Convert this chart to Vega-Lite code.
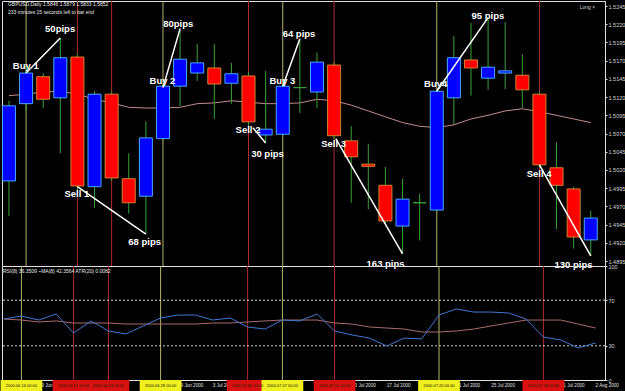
{
  "$schema": "https://vega.github.io/schema/vega-lite/v6.json",
  "background": "black",
  "padding": 0,
  "spacing": 0,
  "bounds": "flush",
  "config": {
    "view": {"stroke": "#e0e0e0", "strokeWidth": 1},
    "text": {"font": "Liberation Sans"},
    "axis": {"labelFont": "Liberation Sans", "labelOverlap": false, "labelBound": false, "labelFlush": false},
    "axisY": {"labelOverlap": false},
    "axisQuantitative": {"labelOverlap": false}
  },
  "datasets": {
    "candles": [
      {"i":0,"o":1.5005,"h":1.5115,"l":1.4957,"c":1.5108},
      {"i":1,"o":1.5111,"h":1.5163,"l":1.5101,"c":1.5153},
      {"i":2,"o":1.5148,"h":1.5153,"l":1.5105,"c":1.5117},
      {"i":3,"o":1.5119,"h":1.5201,"l":1.5043,"c":1.5174},
      {"i":4,"o":1.5175,"h":1.5179,"l":1.4991,"c":1.4998},
      {"i":5,"o":1.4997,"h":1.5128,"l":1.4968,"c":1.5124},
      {"i":6,"o":1.5124,"h":1.5128,"l":1.5005,"c":1.5009},
      {"i":7,"o":1.5008,"h":1.5043,"l":1.4960,"c":1.4975},
      {"i":8,"o":1.4984,"h":1.5087,"l":1.4932,"c":1.5064},
      {"i":9,"o":1.5063,"h":1.5138,"l":1.5060,"c":1.5135},
      {"i":10,"o":1.5135,"h":1.5214,"l":1.5108,"c":1.5172},
      {"i":11,"o":1.5153,"h":1.5193,"l":1.5142,"c":1.5167},
      {"i":12,"o":1.5160,"h":1.5193,"l":1.5090,"c":1.5138},
      {"i":13,"o":1.5139,"h":1.5167,"l":1.5111,"c":1.5152},
      {"i":14,"o":1.5149,"h":1.5155,"l":1.5080,"c":1.5086},
      {"i":15,"o":1.5068,"h":1.5156,"l":1.5057,"c":1.5076},
      {"i":16,"o":1.5069,"h":1.5138,"l":1.5067,"c":1.5135},
      {"i":17,"o":1.5133,"h":1.5200,"l":1.5098,"c":1.5133},
      {"i":18,"o":1.5127,"h":1.5181,"l":1.5105,"c":1.5168},
      {"i":19,"o":1.5164,"h":1.5168,"l":1.5063,"c":1.5067},
      {"i":20,"o":1.5060,"h":1.5080,"l":1.4975,"c":1.5038},
      {"i":21,"o":1.5028,"h":1.5056,"l":1.4966,"c":1.5025},
      {"i":22,"o":1.4999,"h":1.5024,"l":1.4946,"c":1.4950},
      {"i":23,"o":1.4943,"h":1.5008,"l":1.4905,"c":1.4980},
      {"i":24,"o":1.4975,"h":1.4987,"l":1.4923,"c":1.4975},
      {"i":25,"o":1.4965,"h":1.5131,"l":1.4961,"c":1.5128},
      {"i":26,"o":1.5119,"h":1.5204,"l":1.5083,"c":1.5174},
      {"i":27,"o":1.5171,"h":1.5222,"l":1.5122,"c":1.5160},
      {"i":28,"o":1.5146,"h":1.5229,"l":1.5130,"c":1.5161},
      {"i":29,"o":1.5153,"h":1.5223,"l":1.5131,"c":1.5156},
      {"i":30,"o":1.5150,"h":1.5179,"l":1.5105,"c":1.5130},
      {"i":31,"o":1.5124,"h":1.5128,"l":1.5023,"c":1.5027},
      {"i":32,"o":1.5023,"h":1.5058,"l":1.4939,"c":1.4999},
      {"i":33,"o":1.4994,"h":1.4997,"l":1.4912,"c":1.4928},
      {"i":34,"o":1.4924,"h":1.4964,"l":1.4902,"c":1.4954}
    ],
    "ma": [
      {"i":0,"v":1.5122},{"i":1,"v":1.5124},{"i":2,"v":1.5127},{"i":3,"v":1.5128},{"i":4,"v":1.5124},
      {"i":5,"v":1.5117},{"i":6,"v":1.5112},{"i":7,"v":1.5106},{"i":8,"v":1.5105},{"i":9,"v":1.5105},
      {"i":10,"v":1.5106},{"i":11,"v":1.5111},{"i":12,"v":1.5112},{"i":13,"v":1.5115},{"i":14,"v":1.5113},
      {"i":15,"v":1.5111},{"i":16,"v":1.5111},{"i":17,"v":1.5112},{"i":18,"v":1.5117},{"i":19,"v":1.5115},
      {"i":20,"v":1.5109},{"i":21,"v":1.5101},{"i":22,"v":1.5093},{"i":23,"v":1.5085},{"i":24,"v":1.5080},
      {"i":25,"v":1.5078},{"i":26,"v":1.5082},{"i":27,"v":1.5090},{"i":28,"v":1.5095},{"i":29,"v":1.5101},
      {"i":30,"v":1.5104},{"i":31,"v":1.5100},{"i":32,"v":1.5095},{"i":33,"v":1.5090},{"i":34,"v":1.5085}
    ],
    "vlines": [
      {"i":1,"t":"buy","d":"2000.06.16 00:00"},
      {"i":4,"t":"sell","d":"2000.06.21 00:00"},
      {"i":6,"t":"sell","d":"2000.06.23 00:00"},
      {"i":9,"t":"buy","d":"2000.06.28 00:00"},
      {"i":14,"t":"sell","d":"2000.07.05 00:00"},
      {"i":16,"t":"buy","d":"2000.07.07 00:00"},
      {"i":19,"t":"sell","d":"2000.07.12 00:00"},
      {"i":25,"t":"buy","d":"2000.07.20 00:00"},
      {"i":31,"t":"sell","d":"2000.07.28 00:00"}
    ],
    "trends": [
      {"i1":1,"p1":1.5153,"i2":3,"p2":1.5201},
      {"i1":4,"p1":1.4997,"i2":8,"p2":1.4932},
      {"i1":9,"p1":1.5133,"i2":10,"p2":1.5214},
      {"i1":14.25,"p1":1.5078,"i2":15,"p2":1.5057},
      {"i1":16,"p1":1.5135,"i2":17,"p2":1.5200},
      {"i1":19.1,"p1":1.5063,"i2":23,"p2":1.4905},
      {"i1":25,"p1":1.5128,"i2":28,"p2":1.5229},
      {"i1":31,"p1":1.5027,"i2":34,"p2":1.4902}
    ],
    "notes": [
      {"i":0.98,"p":1.5163,"t":"Buy 1"},
      {"i":2.99,"p":1.5214,"t":"50pips"},
      {"i":3.97,"p":1.4987,"t":"Sell 1"},
      {"i":7.93,"p":1.4921,"t":"68 pips"},
      {"i":8.97,"p":1.5142,"t":"Buy 2"},
      {"i":9.89,"p":1.5220,"t":"80pips"},
      {"i":13.97,"p":1.5075,"t":"Sell 2"},
      {"i":15.11,"p":1.5042,"t":"30 pips"},
      {"i":15.98,"p":1.5142,"t":"Buy 3"},
      {"i":16.95,"p":1.5207,"t":"64 pips"},
      {"i":18.97,"p":1.5056,"t":"Sell 3"},
      {"i":22.01,"p":1.4891,"t":"163 pips"},
      {"i":24.94,"p":1.5138,"t":"Buy4"},
      {"i":27.99,"p":1.5231,"t":"95 pips"},
      {"i":30.98,"p":1.5015,"t":"Sell 4"},
      {"i":32.99,"p":1.4889,"t":"130 pips"}
    ],
    "rsi": [
      {"i":0,"r":53.5,"s":53.5},{"i":1,"r":56.1,"s":52.6},{"i":2,"r":52.6,"s":50.9},{"i":3,"r":57.9,"s":51.8},
      {"i":4,"r":41.2,"s":50.0},{"i":5,"r":51.8,"s":50.0},{"i":6,"r":43.0,"s":50.0},{"i":7,"r":40.4,"s":49.1},
      {"i":8,"r":47.4,"s":49.1},{"i":9,"r":54.4,"s":49.1},{"i":10,"r":57.0,"s":49.1},{"i":11,"r":57.0,"s":49.1},
      {"i":12,"r":52.6,"s":50.0},{"i":13,"r":54.4,"s":50.0},{"i":14,"r":46.5,"s":50.9},{"i":15,"r":44.7,"s":51.8},
      {"i":16,"r":52.6,"s":52.6},{"i":17,"r":51.8,"s":52.6},{"i":18,"r":57.9,"s":52.6},{"i":19,"r":43.0,"s":50.0},
      {"i":20,"r":39.5,"s":49.1},{"i":21,"r":36.8,"s":46.5},{"i":22,"r":29.8,"s":45.6},{"i":23,"r":36.8,"s":44.7},
      {"i":24,"r":36.0,"s":42.1},{"i":25,"r":57.0,"s":42.1},{"i":26,"r":62.3,"s":43.0},{"i":27,"r":59.6,"s":44.7},
      {"i":28,"r":59.6,"s":47.4},{"i":29,"r":58.8,"s":50.0},{"i":30,"r":53.5,"s":52.6},{"i":31,"r":37.7,"s":52.6},
      {"i":32,"r":35.1,"s":52.6},{"i":33,"r":28.1,"s":49.1},{"i":34,"r":32.5,"s":45.6}
    ],
    "dates": [
      {"i":2,"t":"19 Jun 2000"},{"i":10,"t":"29 Jun 2000"},{"i":12,"t":"3 Jul 2000"},
      {"i":20,"t":"13 Jul 2000"},{"i":22,"t":"17 Jul 2000"},{"i":26,"t":"21 Jul 2000"},
      {"i":28,"t":"25 Jul 2000"},{"i":32,"t":"31 Jul 2000"},{"i":34,"t":"2 Aug 2000"}
    ]
  },
  "vconcat": [
    {
      "width": 603,
      "height": 265,
      "encoding": {
        "y": {"type": "quantitative", "scale": {"domain": [1.48882, 1.52519], "nice": false, "zero": false},
          "axis": {"orient": "right", "title": null, "grid": false, "labelOverlap": false, "values": [1.4895,1.492,1.4945,1.497,1.4995,1.502,1.5045,1.507,1.5095,1.512,1.5145,1.517,1.5195,1.522,1.5245],
            "format": ".4f", "labelColor": "#d8d8d8", "labelFontSize": 5.5, "tickColor": "#e0e0e0", "tickSize": 2, "domainColor": "#e0e0e0", "labelPadding": 1}}
      },
      "layer": [
        {
          "data": {"name": "vlines"},
          "mark": {"type": "rule", "strokeWidth": 1},
          "encoding": {
            "x": {"field": "i", "type": "quantitative", "scale": {"domain": [-0.115, 34.54], "nice": false, "zero": false}, "axis": null},
            "y": null,
            "color": {"condition": {"test": "datum.t == 'buy'", "value": "#b4b46a"}, "value": "#b02c2c"}
          }
        },
        {
          "data": {"name": "ma"},
          "mark": {"type": "line", "color": "#c48c8c", "strokeWidth": 1},
          "encoding": {
            "x": {"field": "i", "type": "quantitative"},
            "y": {"field": "v", "type": "quantitative", "scale": {"domain": [1.48882, 1.52519], "nice": false, "zero": false},
              "axis": {"orient": "right", "title": null, "grid": false, "labelOverlap": false, "values": [1.4895,1.492,1.4945,1.497,1.4995,1.502,1.5045,1.507,1.5095,1.512,1.5145,1.517,1.5195,1.522,1.5245],
                "format": ".4f", "labelColor": "#d8d8d8", "labelFontSize": 5.5, "tickColor": "#e0e0e0", "tickSize": 2, "domainColor": "#e0e0e0", "labelPadding": 1}}
          }
        },
        {
          "data": {"name": "candles"},
          "mark": {"type": "rule", "color": "#3aa03a", "strokeWidth": 1},
          "encoding": {
            "x": {"field": "i", "type": "quantitative"},
            "y": {"field": "l", "type": "quantitative"},
            "y2": {"field": "h"}
          }
        },
        {
          "data": {"name": "candles"},
          "mark": {"type": "bar", "size": 13, "strokeWidth": 1},
          "encoding": {
            "x": {"field": "i", "type": "quantitative"},
            "y": {"field": "o", "type": "quantitative"},
            "y2": {"field": "c"},
            "fill": {"condition": {"test": "datum.c > datum.o", "value": "#0000ff"}, "value": "#ff0000"},
            "stroke": {"condition": [{"test": "datum.c > datum.o", "value": "#4aa8ff"}, {"test": "datum.c < datum.o", "value": "#d08030"}], "value": "#3aa03a"}
          }
        },
        {
          "data": {"name": "trends"},
          "mark": {"type": "rule", "color": "#ffffff", "strokeWidth": 1.5},
          "encoding": {
            "x": {"field": "i1", "type": "quantitative"},
            "x2": {"field": "i2"},
            "y": {"field": "p1", "type": "quantitative"},
            "y2": {"field": "p2"}
          }
        },
        {
          "data": {"name": "notes"},
          "mark": {"type": "text", "color": "#ffffff", "fontSize": 9.5, "fontWeight": "bold", "baseline": "middle", "align": "center"},
          "encoding": {
            "x": {"field": "i", "type": "quantitative"},
            "y": {"field": "p", "type": "quantitative"},
            "text": {"field": "t"}
          }
        },
        {
          "data": {"values": [
            {"i": -0.06, "p": 1.5250, "t": "GBPUSD,Daily  1.5846 1.5879 1.5833 1.5852"},
            {"i": -0.06, "p": 1.52395, "t": "233 minutes 15 seconds left to bar end"}
          ]},
          "mark": {"type": "text", "color": "#e8e8e8", "fontSize": 5, "align": "left", "baseline": "top"},
          "encoding": {
            "x": {"field": "i", "type": "quantitative"},
            "y": {"field": "p", "type": "quantitative"},
            "text": {"field": "t"}
          }
        },
        {
          "data": {"values": [{"i": 33.35, "p": 1.5244, "t": "Long ×"}]},
          "mark": {"type": "text", "color": "#d0d0d0", "fontSize": 5, "align": "left", "baseline": "middle"},
          "encoding": {
            "x": {"field": "i", "type": "quantitative"},
            "y": {"field": "p", "type": "quantitative"},
            "text": {"field": "t"}
          }
        }
      ]
    },
    {
      "width": 603,
      "height": 114,
      "encoding": {
        "y": {"type": "quantitative", "scale": {"domain": [0, 100], "nice": false, "zero": false},
          "axis": {"orient": "right", "title": null, "grid": false, "labelOverlap": false, "values": [0, 30, 70, 100], "labelColor": "#d8d8d8", "labelFontSize": 5.5,
            "tickColor": "#e0e0e0", "tickSize": 2, "domainColor": "#e0e0e0", "labelPadding": 1}}
      },
      "layer": [
        {
          "data": {"name": "vlines"},
          "mark": {"type": "rule", "strokeWidth": 1},
          "encoding": {
            "x": {"field": "i", "type": "quantitative", "scale": {"domain": [-0.115, 34.54], "nice": false, "zero": false}, "axis": null},
            "y": null,
            "color": {"condition": {"test": "datum.t == 'buy'", "value": "#b4b46a"}, "value": "#b02c2c"}
          }
        },
        {
          "data": {"values": [{"v": 70}, {"v": 30}]},
          "mark": {"type": "rule", "color": "#d0d0d0", "strokeDash": [2, 2], "strokeWidth": 1},
          "encoding": {
            "y": {"field": "v", "type": "quantitative", "scale": {"domain": [0, 100], "nice": false, "zero": false},
              "axis": {"orient": "right", "title": null, "grid": false, "labelOverlap": false, "values": [0, 30, 70, 100], "labelColor": "#d8d8d8", "labelFontSize": 5.5,
                "tickColor": "#e0e0e0", "tickSize": 2, "domainColor": "#e0e0e0", "labelPadding": 1}}
          }
        },
        {
          "data": {"name": "rsi"},
          "mark": {"type": "line", "color": "#a86c6c", "strokeWidth": 1},
          "encoding": {
            "x": {"field": "i", "type": "quantitative"},
            "y": {"field": "s", "type": "quantitative"}
          }
        },
        {
          "data": {"name": "rsi"},
          "mark": {"type": "line", "color": "#3f78d0", "strokeWidth": 1},
          "encoding": {
            "x": {"field": "i", "type": "quantitative"},
            "y": {"field": "r", "type": "quantitative"}
          }
        },
        {
          "data": {"values": [{"i": -0.06, "v": 97, "t": "RSI(8) 36.3509  ~MA(8) 42.3564  ATR(20) 0.0082"}]},
          "mark": {"type": "text", "color": "#e8e8e8", "fontSize": 5, "align": "left", "baseline": "top"},
          "encoding": {
            "x": {"field": "i", "type": "quantitative"},
            "y": {"field": "v", "type": "quantitative"},
            "text": {"field": "t"}
          }
        }
      ]
    },
    {
      "width": 603,
      "height": 11,
      "view": {"stroke": null},
      "layer": [
        {
          "data": {"name": "dates"},
          "mark": {"type": "text", "color": "#e0e0e0", "fontSize": 4.6, "align": "left", "baseline": "middle"},
          "encoding": {
            "x": {"field": "i", "type": "quantitative", "scale": {"domain": [-0.115, 34.54], "nice": false, "zero": false}, "axis": null},
            "text": {"field": "t"}
          }
        },
        {
          "data": {"name": "vlines"},
          "transform": [
            {"calculate": "datum.i - 1.2", "as": "a"},
            {"calculate": "datum.i + 1.2", "as": "b"}
          ],
          "mark": {"type": "rect"},
          "encoding": {
            "x": {"field": "a", "type": "quantitative"},
            "x2": {"field": "b"},
            "fill": {"condition": {"test": "datum.t == 'buy'", "value": "#f0f020"}, "value": "#d81010"}
          }
        },
        {
          "data": {"name": "vlines"},
          "mark": {"type": "text", "color": "#202000", "fontSize": 4.0, "align": "center", "baseline": "middle"},
          "encoding": {
            "x": {"field": "i", "type": "quantitative"},
            "text": {"field": "d"}
          }
        }
      ]
    }
  ]
}
